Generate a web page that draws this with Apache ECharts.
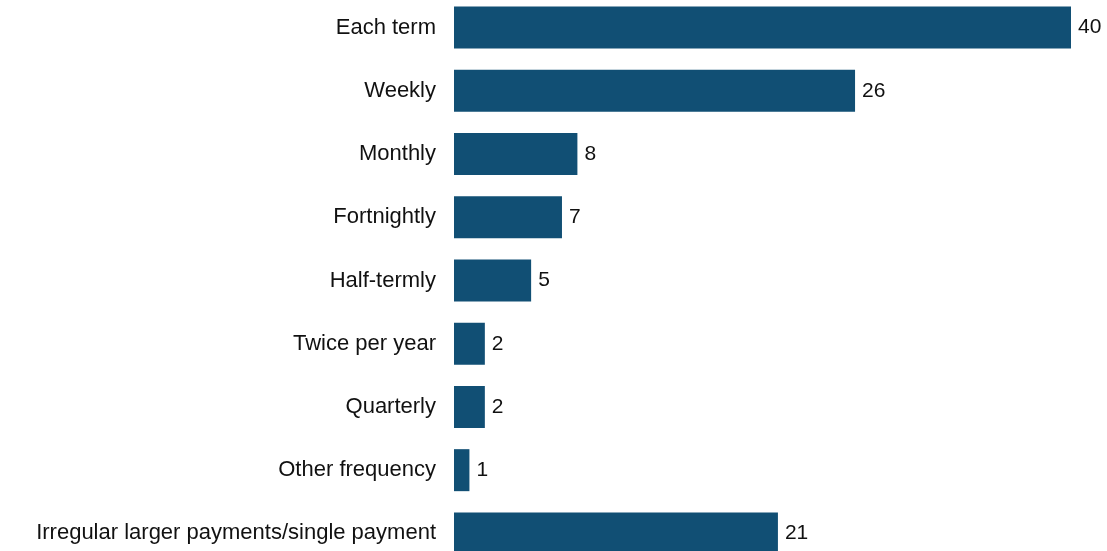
<!DOCTYPE html>
<html>
<head>
<meta charset="utf-8">
<script src="https://cdn.jsdelivr.net/npm/echarts@6/dist/echarts.min.js"></script>
<style>
  html, body { margin: 0; padding: 0; background: #ffffff; overflow: hidden; }
  body { width: 1107px; height: 551px; position: relative; }
  /* the plot runs slightly past the top and bottom edges of the page */
  #chart { position: absolute; left: 0; top: -4px; width: 1107px; height: 570px; }
</style>
</head>
<body>
<div id="chart"></div>
<script>
// Payment frequency categories, top to bottom
const categories = [
  'Each term',
  'Weekly',
  'Monthly',
  'Fortnightly',
  'Half-termly',
  'Twice per year',
  'Quarterly',
  'Other frequency',
  'Irregular larger payments/single payment'
];
// Share for each frequency
const values = [40, 26, 8, 7, 5, 2, 2, 1, 21];

const chart = echarts.init(document.getElementById('chart'), null, { renderer: 'canvas' });

chart.setOption({
  animation: false,
  backgroundColor: '#ffffff',
  grid: {
    left: 454,
    right: 36,
    top: 0,
    height: 569,
    containLabel: false
  },
  xAxis: {
    type: 'value',
    min: 0,
    max: 40,
    show: false
  },
  yAxis: {
    type: 'category',
    data: categories,
    inverse: true,
    axisLine: { show: false },
    axisTick: { show: false },
    splitLine: { show: false },
    axisLabel: {
      margin: 18,
      padding: [4, 0, 0, 0],
      color: '#111111',
      fontFamily: '"Liberation Sans", Arial, sans-serif',
      fontSize: 22
    }
  },
  series: [{
    type: 'bar',
    data: values,
    barWidth: 42,
    itemStyle: { color: '#114f74' },
    label: {
      show: true,
      position: 'right',
      distance: 7,
      color: '#111111',
      fontFamily: '"Liberation Sans", Arial, sans-serif',
      fontSize: 21
    }
  }]
});
</script>
</body>
</html>
